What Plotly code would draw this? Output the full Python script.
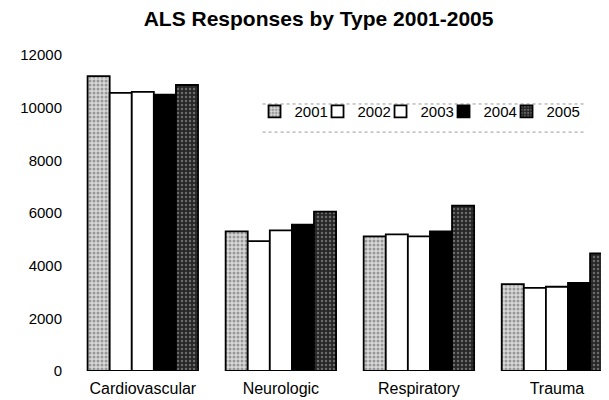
import plotly.graph_objects as go

categories = ["Cardiovascular", "Neurologic", "Respiratory", "Trauma"]
years = ["2001", "2002", "2003", "2004", "2005"]
values = {
    "2001": [11200, 5300, 5110, 3300],
    "2002": [10560, 4930, 5190, 3160],
    "2003": [10600, 5340, 5110, 3200],
    "2004": [10490, 5560, 5300, 3350],
    "2005": [10860, 6050, 6280, 4470],
}
tick_vals = [0, 2000, 4000, 6000, 8000, 10000, 12000]
tick_text = ["0", "2000", "4000", "6000", "8000", "10000", "12000"]

styles = {
    "2001": dict(color="#cfcfcf", pattern=dict(shape=".", fgcolor="#555555", bgcolor="#d8d8d8", size=4, solidity=0.45)),
    "2002": dict(color="white"),
    "2003": dict(color="white"),
    "2004": dict(color="black"),
    "2005": dict(color="#2a2a2a", pattern=dict(shape=".", fgcolor="#b0b0b0", bgcolor="#262626", size=4, solidity=0.3)),
}

fig = go.Figure()
for yr in years:
    fig.add_trace(
        go.Bar(
            x=list(range(len(categories))),
            y=values[yr],
            name=yr,
            marker=dict(line=dict(color="black", width=1.8), **styles[yr]),
            # last entry gets room for its own text so the legend box doesn't clip it
            legendwidth=40 if yr == years[-1] else 18,
        )
    )

# faint dotted rules above and below the legend, as in the scan
for yy in [0.845, 0.756]:
    fig.add_shape(
        type="line", xref="paper", yref="paper",
        x0=0.34, x1=0.94, y0=yy, y1=yy,
        line=dict(color="#999999", width=1, dash="dot"),
    )

fig.update_layout(
    width=609,
    height=400,
    barmode="group",
    bargap=0.2,
    bargroupgap=0,
    plot_bgcolor="white",
    paper_bgcolor="white",
    font=dict(family="Liberation Sans, Arial, sans-serif", color="black"),
    margin=dict(l=72, r=0, t=47, b=37, autoexpand=False),
    title=dict(
        text="<b>ALS Responses by Type 2001-2005</b>",
        x=0.51, xanchor="center", y=0.974, yanchor="middle",
        font=dict(size=21),
    ),
    legend=dict(
        orientation="h",
        x=0.325, xanchor="left",
        y=0.873, yanchor="top",
        font=dict(size=15),
        bgcolor="rgba(0,0,0,0)",
        itemwidth=30,
        entrywidthmode="pixels",
        traceorder="normal",
    ),
)
fig.update_xaxes(
    tickmode="array",
    tickvals=list(range(len(categories))),
    ticktext=categories,
    range=[-0.455, 3.435],
    showline=False,
    showgrid=False,
    zeroline=False,
    tickfont=dict(size=16),
    ticklabelstandoff=6,
    automargin=False,
)
fig.update_yaxes(
    range=[0, 12000],
    tickvals=tick_vals,
    ticktext=tick_text,
    showgrid=False,
    zeroline=False,
    showline=False,
    tickfont=dict(size=15),
    ticklabelstandoff=17,
    automargin=False,
)

fig.write_html("out.html")
